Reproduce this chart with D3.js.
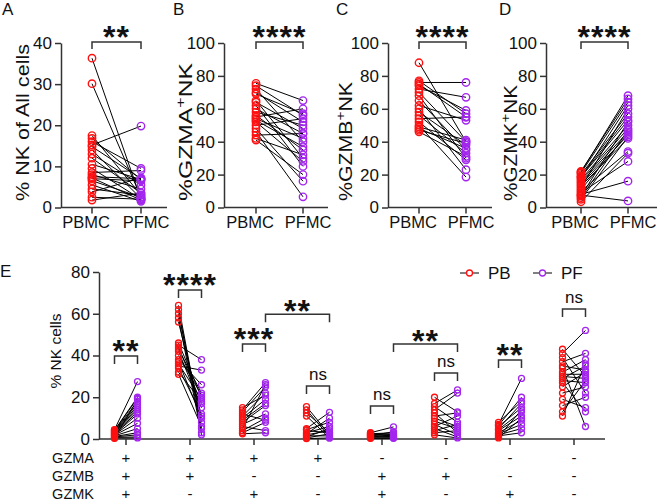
<!DOCTYPE html>
<html><head><meta charset="utf-8">
<script src="https://cdn.jsdelivr.net/npm/d3@7/dist/d3.min.js"></script>
<style>body{margin:0;background:#fff} svg{display:block} text{font-family:"Liberation Sans",Arial,sans-serif;fill:#111}</style>
</head><body><svg id="c" width="661" height="504"></svg>
<script>
// ---------- DATA ----------
const topGroups = ["PBMC", "PFMC"];
const aPBMC = [36.3,30.1,17.5,16.8,16.0,15.2,14.8,14.0,13.0,12.0,10.5,9.5,8.5,8.0,7.5,7.2,7.0,6.5,5.5,4.5,3.8,2.5,1.8];
const aPFMC = [2.0,2.5,3.0,6.8,9.5,19.8,7.0,2.2,5.5,3.5,6.8,2.0,9.0,4.5,7.0,1.8,6.5,2.5,1.5,3.0,7.2,2.0,3.5];
const bPBMC = [75.5,74,72,70,69,65,64,62,60,58,56,55,54,53,52,50,48,46,44,42,41];
const bPFMC = [65,56,40,52,57,30,48,25,45,50,35,60,42,37,28,54,16,6.5,45,32,20];
const cPBMC = [88,77,76,75,74,72,70,68,65,62,60,58,56,54,52,50,49,48,47,46];
const cPFMC = [40,57,76,55,59,67,40,30,35,53,23,38,33,55,29,18.5,41,36,39,31];
const dPBMC = [22,21.5,21,20,19,18.5,18,17,16,15,14,13,12,11,10,9,8,7.5,7,6,5,3.5];
const dPFMC = [66,68,64,57,55,53,62,50,48,46,44,42,60,45,34,28,16,4,52,47,43,33];
const aTicks = [0,10,20,30,40];
const pctTicks = [0,20,40,60,80,100];
const topSig = ["**","****","****","****"];

const eGroups = [0,1,2,3,4,5,6,7];
const gzmaSigns = ["+","+","+","+","-","-","-","-"];
const gzmbSigns = ["+","+","-","-","+","+","-","-"];
const gzmkSigns = ["+","-","+","-","+","-","+","-"];
const rowLabels = ["GZMA","GZMB","GZMK"];
const ePB = [
  [4.5,4.2,4.0,3.8,3.5,3.2,3.0,2.8,2.5,2.2,2.0,1.8,1.5,1.2,1.0,0.8,0.5,0.3],
  [64,62,60,58,56,46,45,44,43,42,40,38,37,36,35,34,32,31],
  [15,14,13,12,11,10,9,8,7,6,5,4,3,2.5],
  [15.5,14,12.5,11,5,4.5,4,3,2.5,2,1.5,1,0.5,0.2],
  [3,2.8,2.5,2.2,2,1.8,1.5,1.2,1,0.8,0.5,0.3],
  [20,17,15.5,14,12.5,11,10,8.5,7,6,5,4,3,2],
  [8,7,6.5,6,5,4.5,4,3,2.5,2,1.5,1,0.5],
  [43,41,39,37,35,34,32,31,30,29,28,27,25,22,19,16,13,11]
];
const ePF = [
  [27.5,20,19.5,18,17,16,15,14,13,12,10,7.5,5,3,2,1,0.5,19],
  [5,3,8,2,11,20,38,17,22,15,21,26,10,19,33,12,18,6],
  [21,27,25,9,22,19,17,16,12,4,26,10,8,3],
  [2,1,3,0.5,12.8,8,3,6,10,4,1.5,5,2.5,0.5],
  [5.8,2,3,1.5,2.5,1,3.5,0.8,2,1.2,0.5,0.3],
  [13,23.5,8,22,3,12.5,6,5,2,11,1,7,4,0.5],
  [18,29,20,15,17,13,11,9,7,5,3,14,10],
  [30,52,22,41,33,6,38,31,29,35,27,13,32,25,15,20,28,36]
];
const eTicks = [0,20,40,60,80];
const eSig = ["**","****","***","ns","ns","ns","**","ns"];
const eCrossSig = [{from:2,to:3,label:"**"},{from:4,to:5,label:"**"}];
const legendLabels = ["PB","PF"];

// ---------- LAYOUT / STYLE ----------
const RED = "#ff1010", PURPLE = "#a326ee", AX = "#333";
const svg = d3.select("#c");
const FS = 17;

function sigText(g, x, yc, label) {
  if (label === "ns") {
    g.append("text").attr("x", x).attr("y", yc + 6).attr("text-anchor","middle")
      .attr("font-size", 17).text(label);
  } else {
    g.append("text").attr("x", x).attr("y", yc + 18).attr("text-anchor","middle")
      .attr("font-size", 32).attr("font-weight","bold").attr("letter-spacing", 1).text(label);
  }
}
function bracket(g, x1, x2, y, leg) {
  g.append("path").attr("d", `M${x1},${y+leg}V${y}H${x2}V${y+leg}`)
    .attr("fill","none").attr("stroke", AX).attr("stroke-width", 1.5);
}

// ---------- TOP PANELS ----------
const topPanels = [
  {letter:"A", lx:2, axisX:61, xr:[92,141], len:106, max:40, ticks:aTicks, pb:aPBMC, pf:aPFMC, title:[["% NK of All cells",""]], tx:29, tlen:157},
  {letter:"B", lx:173, axisX:224, xr:[256,303], len:104, max:100, ticks:pctTicks, pb:bPBMC, pf:bPFMC, title:[["%GZMA",""],["+","sup"],["NK",""]], tx:192, tlen:138},
  {letter:"C", lx:336, axisX:388, xr:[419,466], len:104, max:100, ticks:pctTicks, pb:cPBMC, pf:cPFMC, title:[["%GZMB",""],["+","sup"],["NK",""]], tx:352, tlen:119},
  {letter:"D", lx:499, axisX:546, xr:[581,628], len:111, max:100, ticks:pctTicks, pb:dPBMC, pf:dPFMC, title:[["%GZMK",""],["+","sup"],["NK",""]], tx:517, tlen:116}
];
const catShift = {PBMC:-6, PFMC:5};
topPanels.forEach((p, pi) => {
  const g = svg.append("g");
  const y = d3.scaleLinear().domain([0, p.max]).range([207.5, 43]);
  const x = d3.scalePoint().domain(topGroups).range(p.xr);
  // y axis
  const ya = g.append("g").attr("transform", `translate(${p.axisX},0)`)
    .call(d3.axisLeft(y).tickValues(p.ticks).tickSize(6).tickSizeOuter(0).tickPadding(3));
  ya.selectAll("path,line").attr("stroke", AX).attr("stroke-width", 1.5);
  ya.selectAll("text").attr("font-size", FS).attr("font-family", '"Liberation Sans",Arial,sans-serif').attr("fill","#111");
  // x axis
  g.append("line").attr("x1", p.axisX).attr("x2", p.axisX + p.len).attr("y1", 207.5).attr("y2", 207.5)
    .attr("stroke", AX).attr("stroke-width", 1.5);
  topGroups.forEach(k => {
    g.append("line").attr("x1", x(k)).attr("x2", x(k)).attr("y1", 207.5).attr("y2", 213.5).attr("stroke", AX).attr("stroke-width", 1.5);
    g.append("text").attr("x", x(k) + catShift[k]).attr("y", 228).attr("text-anchor","middle").attr("font-size", 16.5).text(k);
  });
  // pairs
  p.pb.forEach((v, i) => {
    g.append("line").attr("x1", x("PBMC")).attr("y1", y(v)).attr("x2", x("PFMC")).attr("y2", y(p.pf[i]))
      .attr("stroke", "#000").attr("stroke-width", 1);
  });
  g.selectAll(".pb").data(p.pb).join("circle").attr("cx", x("PBMC")).attr("cy", d => y(d)).attr("r", 3.7)
    .attr("fill","none").attr("stroke", RED).attr("stroke-width", 1.4);
  g.selectAll(".pf").data(p.pf).join("circle").attr("cx", x("PFMC")).attr("cy", d => y(d)).attr("r", 3.7)
    .attr("fill","none").attr("stroke", PURPLE).attr("stroke-width", 1.4);
  // title
  const t = g.append("text").attr("transform", `translate(${p.tx},201) rotate(-90)`).attr("font-size", 17.5)
    .attr("textLength", p.tlen).attr("lengthAdjust", "spacingAndGlyphs");
  p.title.forEach(([s, kind]) => {
    const ts = t.append("tspan").text(s);
    if (kind === "sup") ts.attr("baseline-shift", "super").attr("font-size", 12.5);
  });
  // letter
  g.append("text").attr("x", p.lx).attr("y", 15).attr("font-size", 17).text(p.letter);
  // significance
  bracket(g, x("PBMC"), x("PFMC"), 42, 7);
  sigText(g, (p.xr[0] + p.xr[1]) / 2, 30, topSig[pi]);
});

// ---------- PANEL E ----------
const E = svg.append("g");
const ey = d3.scaleLinear().domain([0, 80]).range([439, 272]);
const ex = d3.scalePoint().domain(eGroups).range([126, 574]);
const off = 11.5;
const eya = E.append("g").attr("transform", "translate(99,0)")
  .call(d3.axisLeft(ey).tickValues(eTicks).tickSize(6).tickSizeOuter(0).tickPadding(3));
eya.selectAll("path,line").attr("stroke", AX).attr("stroke-width", 1.5);
eya.selectAll("text").attr("font-size", FS).attr("font-family", '"Liberation Sans",Arial,sans-serif').attr("fill","#111");
E.append("line").attr("x1", 99).attr("x2", 605).attr("y1", 439).attr("y2", 439).attr("stroke", AX).attr("stroke-width", 1.5);
E.append("text").attr("transform", "translate(61,351) rotate(-90)").attr("text-anchor","middle").attr("font-size", 15.5).text("% NK cells");
E.append("text").attr("x", 0).attr("y", 277).attr("font-size", 17).text("E");

const signRows = [gzmaSigns, gzmbSigns, gzmkSigns];
const rowY = [463, 481, 499];
rowLabels.forEach((r, ri) => {
  E.append("text").attr("x", 94).attr("y", rowY[ri]).attr("text-anchor","end").attr("font-size", 14.5).text(r);
});
eGroups.forEach(gi => {
  const cx = ex(gi);
  E.append("line").attr("x1", cx).attr("x2", cx).attr("y1", 439).attr("y2", 445).attr("stroke", AX).attr("stroke-width", 1.5);
  signRows.forEach((row, ri) => {
    E.append("text").attr("x", cx).attr("y", rowY[ri]).attr("text-anchor","middle").attr("font-size", 15).text(row[gi]);
  });
  ePB[gi].forEach((v, i) => {
    E.append("line").attr("x1", cx - off).attr("y1", ey(v)).attr("x2", cx + off).attr("y2", ey(ePF[gi][i]))
      .attr("stroke", "#000").attr("stroke-width", 1);
  });
  E.selectAll(null).data(ePB[gi]).join("circle").attr("cx", cx - off).attr("cy", d => ey(d)).attr("r", 3)
    .attr("fill","none").attr("stroke", RED).attr("stroke-width", 1.3);
  E.selectAll(null).data(ePF[gi]).join("circle").attr("cx", cx + off).attr("cy", d => ey(d)).attr("r", 3)
    .attr("fill","none").attr("stroke", PURPLE).attr("stroke-width", 1.3);
});
// within-group significance
const bracketLevel = [39.8, 71.4, 45.5, 25.4, 15.8, 31.6, 37.8, 62.3];
eGroups.forEach(gi => {
  const by = ey(bracketLevel[gi]);
  bracket(E, ex(gi) - off, ex(gi) + off, by, 8);
  sigText(E, ex(gi), by - 12, eSig[gi]);
});
const crossLevel = [59.8, 45.5];
eCrossSig.forEach((c, ci) => {
  const by = ey(crossLevel[ci]);
  bracket(E, ex(c.from) + off, ex(c.to) + off, by, 8);
  sigText(E, (ex(c.from) + ex(c.to)) / 2 + off, by - 10, c.label);
});
// legend
const legX = [460, 533];
legendLabels.forEach((l, li) => {
  const lx = legX[li];
  E.append("line").attr("x1", lx).attr("x2", lx + 19).attr("y1", 273).attr("y2", 273).attr("stroke","#000").attr("stroke-width", 1);
  E.append("circle").attr("cx", lx + 9.5).attr("cy", 273).attr("r", 3).attr("fill","#fff")
    .attr("stroke", li === 0 ? RED : PURPLE).attr("stroke-width", 1.3);
  E.append("text").attr("x", lx + 28).attr("y", 279).attr("font-size", 17).text(l);
});
</script></body></html>
